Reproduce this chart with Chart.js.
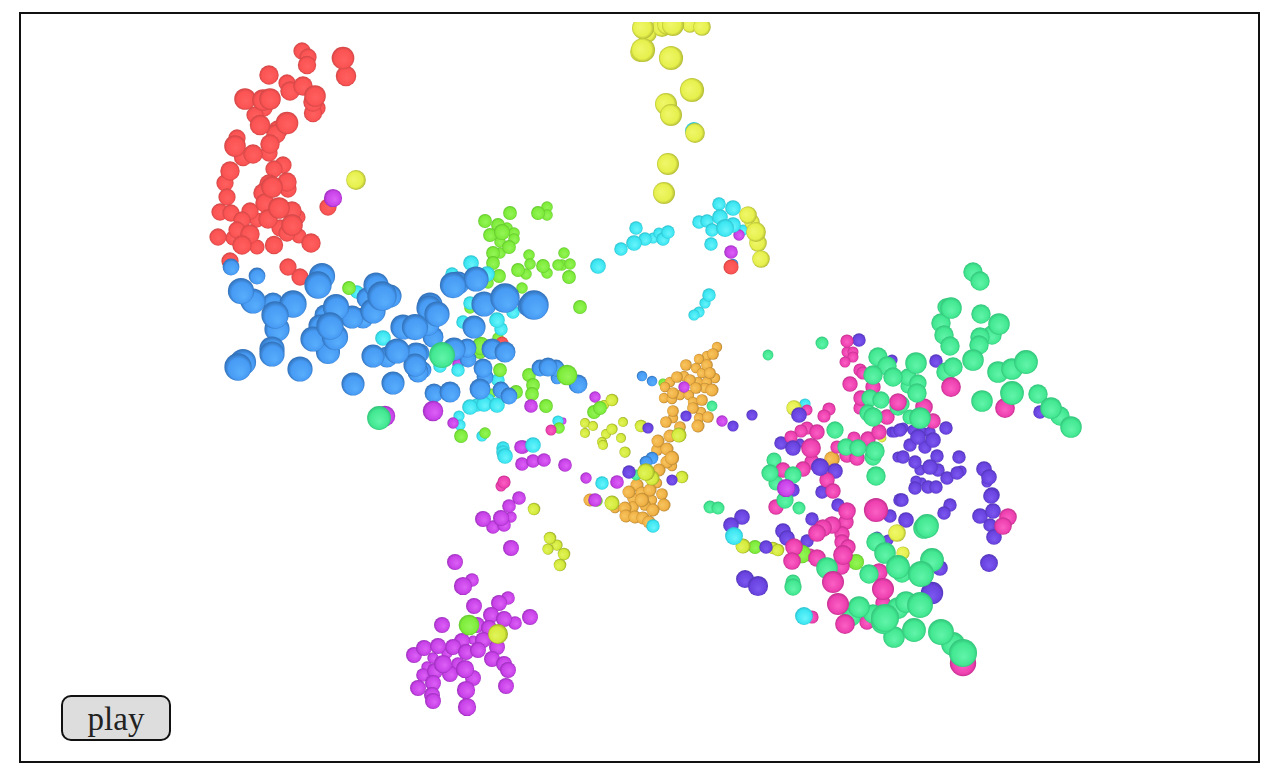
<!DOCTYPE html>
<html>
<head>
<meta charset="utf-8">
<title>play</title>
<script src="https://cdn.jsdelivr.net/npm/chart.js@4"></script>
<style>
  html, body { margin: 0; padding: 0; background: #fff; }
  #frame { position: absolute; left: 19px; top: 12px; width: 1241px; height: 751px; box-sizing: border-box; border: 2px solid #111; }
  #wrap { position: absolute; left: 20px; top: 22px; width: 1238px; height: 739px; }
  #play { position: absolute; left: 61px; top: 695px; width: 110px; height: 46px; box-sizing: border-box; background: #ddd; border: 2px solid #111; border-radius: 10px; font: 33px "Liberation Serif", serif; color: #222; padding: 3px 0 0 0; }
</style>
</head>
<body>
<div id="frame"></div>
<div id="wrap"><canvas id="cloud"></canvas></div>
<button id="play">play</button>
<script>
// every ball is [x, y, r]
const red = [[302,51,8],[308,57,8],[307,65,8.5],[343,58,10.5],[346,76,9.5],[269,75,9],[287,83,8],[290,91,9],[303,86,9],[245,99,10],[263,100,10],[270,99,10],[264,108,8],[315,96,10],[313,102,9],[317,108,8],[313,113,8.5],[255,115,8],[260,125,9.5],[287,123,10.5],[278,130,9],[276,134,9],[270,144,9],[269,153,8],[237,138,8],[235,146,10],[243,157,8.5],[253,154,9],[230,171,9],[225,183,8],[227,197,8],[283,165,8],[274,169,8],[269,184,9],[272,187,10],[287,182,9],[288,189,8],[263,193,9],[265,203,9],[279,208,10],[292,211,9],[298,217,7],[220,212,8],[231,213,8],[250,211,8],[242,220,8],[257,220,7],[268,219,9],[237,230,8],[250,234,9],[233,238,7],[242,245,9],[257,247,7],[218,237,8],[274,245,8.5],[280,228,8],[292,225,10],[287,233,8],[299,236,7],[311,243,9],[328,207,8],[230,261,8],[288,267,8],[300,277,8],[502,343,6],[731,267,7]];
const blue = [[231,267,8],[257,276,8],[241,291,12.5],[253,301,12],[273,303,10],[293,304,13],[275,315,13],[277,329,12],[272,349,12],[272,354,12],[243,362,12.5],[238,367,13],[300,369,12],[322,276,12.5],[318,285,13],[336,307,12.5],[325,315,10],[320,326,11],[352,317,11],[330,326,13],[335,337,12.5],[313,339,12],[328,352,11.5],[373,311,12],[363,318,10],[376,285,12],[367,298,10],[382,296,14],[390,296,11],[403,327,12],[415,327,12.5],[373,356,11],[387,357,10],[397,351,12],[416,354,11],[415,365,11],[418,372,10],[353,384,11],[393,383,11],[430,305,12],[427,323,11],[429,308,12],[437,314,12],[428,324,11],[433,337,10],[453,285,12.5],[458,283,11],[476,279,12],[484,304,12],[505,298,14],[534,305,14],[528,306,10],[474,327,11],[454,349,11],[467,348,9],[420,353,9],[468,359,8],[492,349,10],[505,352,10],[483,368,9],[485,377,8],[480,389,10],[501,390,8],[509,396,8],[434,393,9],[450,392,10],[540,368,8],[548,367,9],[556,368,8],[557,378,6],[578,384,9],[423,370,8],[642,376,5],[652,381,5],[652,458,6],[646,462,6],[733,264,5]];
const cyan = [[357,292,6],[383,338,7],[471,263,7],[452,274,6],[487,274,7],[470,303,6],[513,312,6],[497,320,7],[463,322,6],[501,329,6],[440,366,6],[458,370,6],[470,407,7],[477,405,6],[484,404,7],[497,405,7],[488,400,6],[498,380,6],[459,416,5],[460,425,5],[482,436,5],[503,448,6],[503,452,6],[505,456,7],[533,445,7],[598,266,7],[558,421,5],[719,204,6],[733,208,7],[699,222,6],[707,221,6],[720,217,7],[712,230,6],[725,228,8],[733,225,7],[743,230,5],[711,244,6],[636,228,6],[634,243,7],[621,249,6],[645,239,6],[653,238,5],[659,233,5],[663,239,6],[668,232,6],[709,295,6],[705,303,5],[699,312,5],[694,315,5],[694,131,8],[602,483,6],[653,526,6],[734,536,8],[805,404,5],[804,616,8]];
const green = [[349,288,6],[485,221,6],[510,213,6],[538,213,6],[547,207,5],[547,215,5],[498,225,6],[490,235,6],[502,232,7],[507,228,5],[514,233,5],[514,239,5],[500,242,5],[509,247,6],[493,253,6],[500,253,5],[493,263,6],[499,276,6],[488,283,5],[529,255,5],[530,264,5],[518,270,6],[526,274,5],[543,266,6],[547,273,5],[564,253,5],[562,265,5],[570,264,5],[569,277,6],[558,265,5],[522,288,5],[580,307,6],[470,308,5],[481,346,8],[480,352,6],[498,338,5],[500,370,6],[529,375,6],[533,385,6],[532,394,6],[516,392,6],[492,393,4],[546,406,6],[567,375,9],[461,436,6],[485,433,5],[559,428,5],[594,412,6],[600,408,6],[663,383,4],[597,501,5],[469,625,9],[755,547,6],[802,554,8],[856,562,7]];
const yellow = [[643,28,10],[647,33,9],[643,50,11],[640,52,9],[662,27,9],[673,25,10],[667,25,9],[690,25,7],[702,27,8],[671,58,11],[692,90,11],[666,104,10],[671,115,10],[695,133,9],[668,164,10],[664,193,10],[748,215,8],[752,222,7],[756,232,9],[758,243,8],[761,259,8],[356,180,9],[794,408,7],[882,438,4],[897,533,8],[903,553,6]];
const lime = [[612,400,5],[604,405,4],[585,423,4],[593,426,4],[585,433,4],[623,422,4],[612,429,4.5],[606,434,4],[602,442,4],[603,445,4],[621,438,4],[625,452,4.5],[641,426,5],[679,435,6],[646,472,7],[652,478,6],[682,477,5],[612,503,6],[534,509,5],[550,538,5],[557,545,4.5],[548,549,4.5],[564,554,5],[560,565,5],[498,634,8],[743,546,6],[773,548,5],[778,550,5]];
const orange = [[717,347,4],[713,354,4.5],[707,356,4],[699,359,4],[686,365,4.5],[707,365,4.5],[696,368,4],[702,373,4],[710,373,4.5],[715,378,4],[677,377,4.5],[684,376,4],[670,382,4],[690,380,4.5],[698,382,4],[707,382,4],[665,387,4],[696,388,4.5],[705,388,4],[712,390,5],[673,393,4.5],[680,395,4],[689,395,4],[664,398,4],[672,399,4],[702,400,4.5],[693,402,4],[693,408,4.5],[701,412,4],[708,417,4.5],[673,411,4.5],[698,426,5],[699,418,4],[666,422,4.5],[673,418,4],[680,427,4.5],[670,436,5],[658,441,5],[657,450,4.5],[667,449,5],[672,458,5.5],[667,462,5],[672,466,4],[659,470,5],[653,477,4],[637,485,5],[629,492,5],[642,493,5],[650,490,5],[657,483,4],[662,494,4.5],[642,500,5.5],[633,498,4.5],[652,500,4],[633,507,4.5],[645,505,4.5],[664,505,5],[625,508,5],[626,516,5],[635,517,5],[643,518,5],[653,510,5],[649,522,5],[590,500,5],[615,508,4],[832,459,6]];
const violet = [[648,428,5],[686,416,5],[733,426,5],[752,415,5],[629,472,6],[672,480,5],[742,517,7],[731,525,7],[859,340,6],[799,415,7],[781,443,6],[793,448,7],[800,443,4],[820,467,8],[835,471,7],[822,492,6],[793,490,6],[838,505,6],[900,500,6],[892,432,5],[900,430,6],[898,457,5],[892,360,5],[783,531,7],[787,538,7],[812,519,6],[807,541,6],[766,547,6],[745,579,8],[758,586,9],[890,516,6],[902,500,6],[906,520,7],[950,505,6],[944,513,6],[980,516,7],[993,511,7],[990,525,6],[994,537,7],[989,563,8],[992,495,7],[940,568,7],[932,593,10],[877,537,5],[888,540,5],[936,361,6],[946,428,6],[895,432,5],[903,428,5],[913,430,5],[922,432,5],[930,432,5],[918,437,7],[910,445,6],[933,440,7],[925,447,6],[903,457,6],[915,462,6],[937,456,6],[959,457,6],[930,467,7],[920,470,5],[938,470,6],[947,478,6],[957,473,6],[961,471,5],[916,481,5],[915,488,6],[928,487,6],[936,487,6],[922,482,4],[984,469,7],[989,477,7],[987,482,5],[991,496,7],[1040,412,6]];
const teal = [[442,355,12],[379,418,11],[712,406,5],[636,475,5],[710,507,6],[718,508,6],[822,343,6],[768,355,5],[878,357,9],[887,366,9],[873,375,9],[893,377,9],[870,398,8],[881,400,8],[868,413,8],[873,417,9],[898,407,8],[835,430,8],[846,447,8],[858,448,8],[875,451,9],[873,457,8],[876,476,9],[774,460,7],[770,473,8],[776,483,7],[793,475,8],[785,500,8],[799,508,6],[927,526,11],[924,528,10],[876,542,9],[885,553,10],[898,567,11],[902,573,9],[932,560,11],[921,574,12],[869,574,9],[827,568,10],[793,582,7],[793,587,8],[859,607,10],[851,617,9],[873,614,9],[885,618,13],[883,622,11],[898,608,10],[906,602,10],[920,605,12],[894,637,10],[914,630,11],[941,632,12],[953,644,11],[963,653,13],[973,272,9],[980,281,9],[951,308,10],[946,307,8],[941,323,9],[944,335,9],[950,346,9],[981,314,9],[999,324,10],[992,335,9],[980,337,9],[979,345,9],[973,360,10],[946,372,9],[953,367,9],[998,372,10],[1012,369,10],[1026,362,11],[1012,393,11],[982,401,10],[1038,394,9],[1051,408,10],[1060,416,9],[1071,427,10],[916,363,10],[908,377,8],[908,386,7],[918,383,8],[917,393,9],[901,404,8],[920,418,10],[910,417,7]];
const pink = [[504,482,6],[501,486,5],[551,430,5],[847,341,6],[847,352,5],[853,352,5],[853,357,5],[845,362,5],[860,370,6],[863,373,6],[850,384,7],[873,387,7],[861,398,7],[860,408,6],[887,417,7],[897,405,6],[829,409,6],[824,416,6],[807,410,5],[807,428,6],[801,431,6],[817,432,7],[791,437,6],[811,448,9],[837,447,6],[854,438,6],[868,439,7],[879,432,7],[847,455,7],[857,458,7],[812,462,7],[803,469,7],[783,470,7],[827,480,7],[833,491,7],[776,507,7],[876,510,11],[847,511,8],[846,522,7],[832,525,8],[823,528,8],[817,533,8],[842,534,7],[842,542,7],[848,547,7],[843,555,9],[841,566,8],[794,547,8],[792,561,8],[817,558,8],[810,555,6],[833,582,10],[838,604,10],[845,624,9],[867,622,7],[879,572,8],[883,589,10],[883,603,7],[812,617,6],[963,663,12],[951,387,9],[1005,408,9],[924,407,8],[933,421,7],[898,402,8],[1008,517,8],[1003,526,8]];
const magenta = [[333,198,8],[385,416,9],[433,411,9],[458,364,5],[453,423,5],[531,406,6],[595,397,5],[523,447,6],[563,421,3],[739,235,5],[731,252,6],[684,387,5],[722,421,5],[586,478,5],[617,482,6],[595,500,6],[786,488,8],[521,447,6],[522,464,6],[533,461,6],[544,460,6],[565,465,6],[519,498,6],[509,506,6],[483,519,7],[501,518,7],[511,517,5],[493,527,6],[504,525,6],[511,548,7],[455,562,7],[463,586,8],[472,580,6],[474,606,7],[499,603,7],[508,598,6],[530,617,7],[491,615,7],[504,619,7],[442,625,7],[477,625,7],[515,623,6],[489,628,7],[462,641,7],[483,640,7],[473,640,4],[453,647,7],[466,652,7],[478,650,7],[497,647,7],[414,655,7],[424,648,7],[438,646,7],[447,653,5],[433,658,5],[492,659,7],[427,667,5],[443,664,8],[435,671,7],[458,664,6],[465,669,8],[450,674,7],[504,664,7],[508,670,7],[423,675,6],[473,678,7],[433,683,7],[418,688,7],[466,690,8],[432,695,7],[433,701,7],[506,686,7],[467,707,8]];

// [balls, base colour, highlight, rim, light offset x, light offset y, size factor]
const seriesTable = [
  [red, "#fb5353", "#ff6060", "#c04040", 0.1, 0.2, 1.08],
  [blue, "#479bf4", "#58aefc", "#2a62a4", 0.25, 0.5, 1.05],
  [cyan, "#3ce6f2", "#6af4fb", "#26b4c0", 0.15, 0.3, 1.12],
  [green, "#7eec3a", "#94f558", "#58b828", 0.1, 0.2, 1.15],
  [yellow, "#e6f04c", "#f0f76c", "#a0a82c", -0.3, -0.1, 1.1],
  [lime, "#d4ea3a", "#e2f45e", "#84941e", -0.3, 0.2, 1.25],
  [orange, "#f0b144", "#f8c662", "#a0742c", -0.35, 0, 1.3],
  [violet, "#6a43e0", "#7c58f0", "#4830a8", 0.05, 0.35, 1.12],
  [teal, "#43e892", "#62f4aa", "#2cb872", 0.05, 0.3, 1.08],
  [pink, "#ee40b0", "#fa60c4", "#b02880", 0, 0.2, 1.1],
  [magenta, "#c842e8", "#dc60f6", "#8c26ac", 0.25, 0.15, 1.14]
];

// nearer balls look bigger, so paint small ones first
function buildBalls() {
  const rows = [];
  seriesTable.forEach((s, i) => {
    s[0].forEach(b => rows.push({ x: b[0], y: b[1], r: b[2] * s[6], depth: b[2], s: i }));
  });
  rows.sort((a, b) => a.depth - b.depth);
  return rows;
}

function sphereFill(c) {
  if (c.type !== "data" || !c.raw) return "#888";
  const s = seriesTable[c.raw.s];
  const px = c.chart.scales.x.getPixelForValue(c.raw.x);
  const py = c.chart.scales.y.getPixelForValue(c.raw.y);
  if (!isFinite(px) || !isFinite(py)) return s[1]; // scales not laid out yet
  const r = c.raw.r;
  const g = c.chart.ctx.createRadialGradient(px + s[4] * r, py + s[5] * r, 0, px, py, r * 1.1);
  g.addColorStop(0, s[2]);
  g.addColorStop(0.7, s[1]);
  g.addColorStop(1, s[3]);
  return g;
}

new Chart(document.getElementById("cloud"), {
  type: "bubble",
  data: { datasets: [{ data: buildBalls(), backgroundColor: sphereFill, borderWidth: 0, hoverBorderWidth: 0, clip: 0 }] },
  options: {
    responsive: true,
    maintainAspectRatio: false,
    animation: false,
    layout: { autoPadding: false },
    plugins: { legend: { display: false }, tooltip: { enabled: false } },
    scales: {
      x: { type: "linear", min: 20, max: 1258, display: false },
      y: { type: "linear", min: 22, max: 761, reverse: true, display: false }
    }
  }
});
</script>
</body>
</html>
